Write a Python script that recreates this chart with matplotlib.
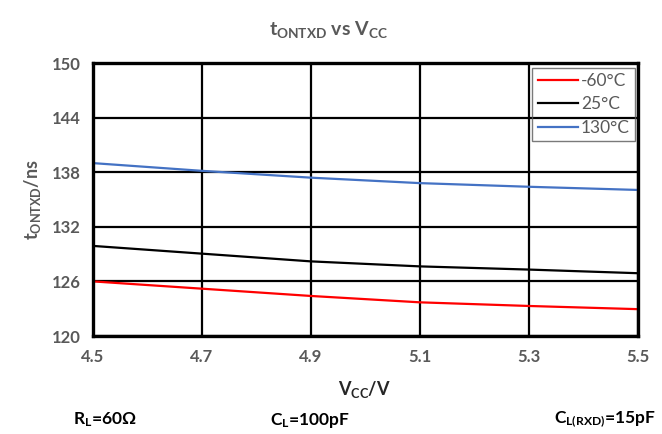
import numpy as np
import matplotlib
matplotlib.use("Agg")
import matplotlib.pyplot as plt

plt.rcParams['font.family'] = ['Lato', 'DejaVu Sans']
plt.rcParams['mathtext.default'] = 'regular'

vcc = [4.5, 4.7, 4.9, 5.1, 5.3, 5.5]
t_m60 = [126.0, 125.2, 124.4, 123.7, 123.3, 122.95]
t_25 = [129.9, 129.05, 128.2, 127.65, 127.3, 126.9]
t_130 = [139.0, 138.15, 137.4, 136.8, 136.4, 136.05]

series = [("-60°C", t_m60, "#FF0000"),
          ("25°C", t_25, "#000000"),
          ("130°C", t_130, "#4472C4")]

xticks = [4.5, 4.7, 4.9, 5.1, 5.3, 5.5]
yticks = [120, 126, 132, 138, 144, 150]

gray = "#595959"

fig = plt.figure(figsize=(6.62, 4.34), dpi=100)
ax = fig.add_axes([0.1405, 0.2258, 0.8232, 0.629])

for name, vals, col in series:
    ax.plot(vcc, vals, color=col, lw=1.6, label=name, zorder=3)

ax.set_xlim(4.5, 5.5)
ax.set_ylim(120, 150)
ax.set_xticks(xticks)
ax.set_yticks(yticks)
ax.set_xticklabels(["%.1f" % v for v in xticks])
ax.grid(True, color="black", lw=1.6)
ax.tick_params(length=0, labelsize=12, labelcolor=gray, pad=9)
for lab in ax.get_xticklabels() + ax.get_yticklabels():
    lab.set_fontweight("bold")
for s in ax.spines.values():
    s.set_linewidth(2.4)
    s.set_zorder(4)

ax.set_ylabel("t$_{ONTXD}$/ns", fontsize=13, fontweight="bold", color=gray, labelpad=6)

fig.text(0.497, 0.932, "t$_{ONTXD}$ vs V$_{CC}$", ha="center", va="center",
         fontsize=14, fontweight="bold", color=gray)
fig.text(0.551, 0.103, "V$_{CC}$/V", ha="center", va="center",
         fontsize=13, fontweight="bold", color="#262626")

fig.text(0.159, 0.032, "R$_{L}$=60Ω", ha="center", va="center", fontsize=12.5, fontweight="bold")
fig.text(0.468, 0.032, "C$_{L}$=100pF", ha="center", va="center", fontsize=12.5, fontweight="bold")
fig.text(0.99, 0.032, "C$_{L(RXD)}$=15pF", ha="right", va="center", fontsize=12.5, fontweight="bold")

leg = ax.legend(loc="upper right", bbox_to_anchor=(0.995, 0.982), borderaxespad=0,
                fontsize=12.5, frameon=True, fancybox=False, edgecolor="#595959",
                facecolor="none", handlelength=2.3, handletextpad=0.2,
                labelspacing=0.42, borderpad=0.3)
leg.get_frame().set_linewidth(1.0)
for t in leg.get_texts():
    t.set_color(gray)

fig.savefig("out.png", dpi=100)
